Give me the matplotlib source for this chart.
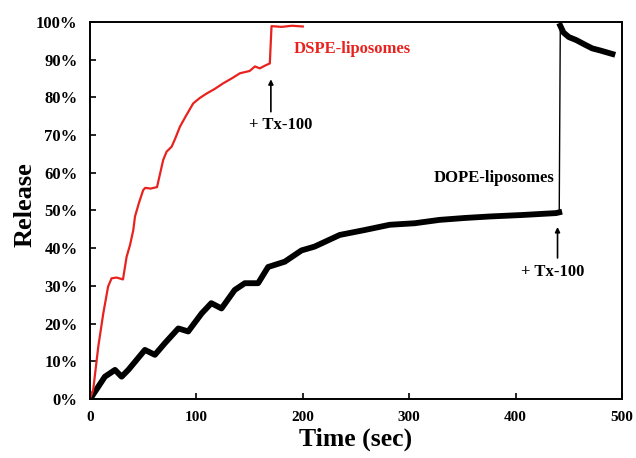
import numpy as np
import matplotlib
matplotlib.use("Agg")
import matplotlib.pyplot as plt
from matplotlib.ticker import PercentFormatter

# -------------------------------------------------------
# Release kinetics of DSPE vs DOPE liposomes
# -------------------------------------------------------

# DSPE-liposomes (red), before and after Triton X-100 addition
dspe_t = [0, 3, 7.8, 12.5, 17, 20.3, 25, 31, 34.4, 37.6, 40.7, 42.3, 46, 50, 52, 57, 63,
          68.8, 72, 76.7, 80, 84.5, 90, 97, 103, 109.5, 117, 125, 133, 141, 150, 155, 159.6, 165, 169]
dspe_r = [0, 2.4, 13.9, 22.7, 29.8, 32.0, 32.2, 31.7, 37.7, 40.8, 44.8, 48.4, 52.0, 55.4, 56.0, 55.8, 56.2,
          63.4, 65.6, 66.9, 69.0, 72.2, 75.0, 78.4, 79.8, 81.0, 82.2, 83.7, 85.0, 86.4, 87.0, 88.2, 87.7, 88.5, 89.0]
dspe_tx_t = [170.6, 180, 190, 200]
dspe_tx_r = [98.9, 98.7, 99.0, 98.8]

# DOPE-liposomes (black)
dope_t = [0, 1.6, 14, 23.5, 29.7, 36, 51.6, 61, 70.4, 83, 92.3, 105, 114, 123.6, 136, 145.5, 158,
          167.4, 183, 198.8, 211, 234.7, 258, 281.7, 305, 328.6, 352, 375.6, 406.6, 438, 441]
dope_r = [0, 0.6, 5.9, 7.7, 5.9, 7.7, 13.0, 11.7, 14.8, 18.7, 17.9, 22.7, 25.4, 24.0, 28.9, 30.7, 30.7,
          35.0, 36.4, 39.4, 40.4, 43.5, 44.8, 46.2, 46.6, 47.5, 48.0, 48.4, 48.8, 49.3, 49.5]
dope_tx_t = [442, 445, 450, 457, 465, 472, 480, 491]
dope_tx_r = [99.0, 97.2, 96.0, 95.2, 94.0, 93.0, 92.4, 91.5]

x_ticks = [0, 100, 200, 300, 400, 500]
y_ticks = [0, 10, 20, 30, 40, 50, 60, 70, 80, 90, 100]

plt.rcParams["font.family"] = ["Liberation Serif", "DejaVu Serif"]
plt.rcParams["font.weight"] = "bold"

fig = plt.figure(figsize=(6.36, 4.58), dpi=100)
ax = fig.add_axes([0.1415, 0.129, 0.8365, 0.823])

# DOPE trace: thick band, thin jump line
ax.plot(dope_t, dope_r, color="black", linewidth=4.2, solid_joinstyle="round")
ax.plot([dope_t[-1], dope_tx_t[0]], [dope_r[-1], dope_tx_r[0]], color="black", linewidth=1.0)
ax.plot(dope_tx_t, dope_tx_r, color="black", linewidth=4.2, solid_joinstyle="round")

# DSPE trace
ax.plot(dspe_t + dspe_tx_t, dspe_r + dspe_tx_r, color="#e8231f", linewidth=1.6)

ax.set_xlim(0, 500)
ax.set_ylim(0, 100)
ax.set_xticks(x_ticks)
ax.set_yticks(y_ticks)
ax.yaxis.set_major_formatter(PercentFormatter(decimals=0))
ax.tick_params(direction="in", length=4, width=1.2)
ax.tick_params(axis="x", labelsize=11, pad=9)
ax.tick_params(axis="y", labelsize=12, pad=9)
for lab in ax.get_xticklabels() + ax.get_yticklabels():
    lab.set_fontweight("bold")
for sp in ax.spines.values():
    sp.set_linewidth(1.4)

ax.set_xlabel("Time (sec)", fontsize=18.5, fontweight="bold", labelpad=2)
ax.set_ylabel("Release", fontsize=19, fontweight="bold", va="center")
ax.yaxis.set_label_coords(-0.122, 0.515)

# labels and Tx-100 arrows
arrow = dict(arrowstyle="-|>", color="black", lw=1.2, mutation_scale=7, shrinkA=0, shrinkB=0)
ax.text(191, 92.8, "DSPE-liposomes", color="#e8231f", fontsize=12, fontweight="bold",
        ha="left", va="center")
ax.annotate("", xy=(170, 84.8), xytext=(170, 76.2), arrowprops=arrow)
ax.text(179, 72.7, "+ Tx-100", ha="center", va="center", fontsize=12, fontweight="bold")

ax.text(436, 58.6, "DOPE-liposomes", color="black", fontsize=12, fontweight="bold",
        ha="right", va="center")
ax.annotate("", xy=(439.4, 45.6), xytext=(439.4, 37.4), arrowprops=arrow)
ax.text(435, 33.7, "+ Tx-100", ha="center", va="center", fontsize=12, fontweight="bold")

fig.savefig("out.png", dpi=100, facecolor="white")
